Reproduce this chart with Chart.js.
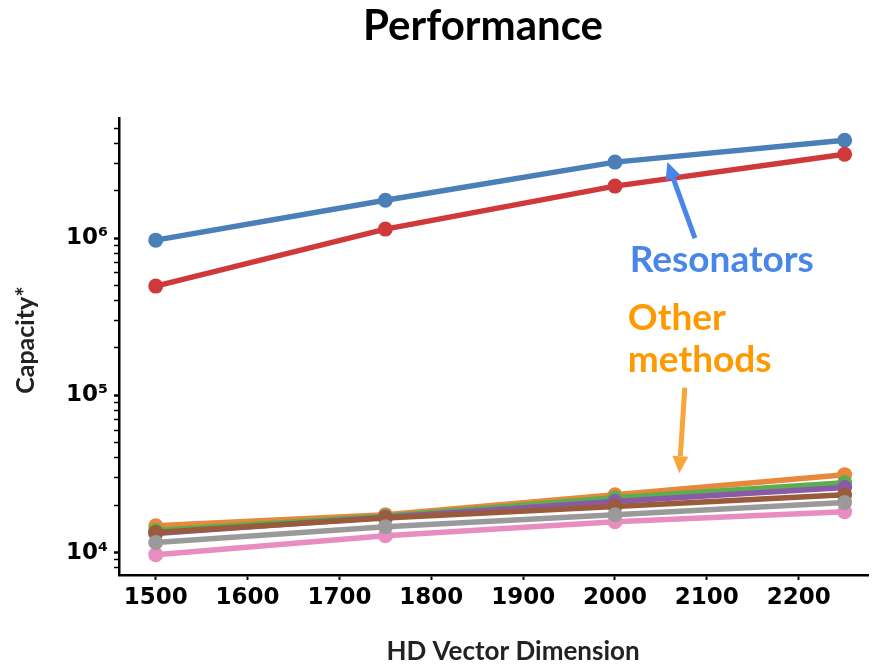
<!DOCTYPE html>
<html><head><meta charset="utf-8">
<script src="https://cdn.jsdelivr.net/npm/chart.js@4/dist/chart.umd.min.js"></script>
<style>html,body{margin:0;padding:0;background:#fff}#wrap{width:876px;height:665px}</style>
</head><body><div id="wrap"><canvas id="c" width="876" height="665"></canvas></div>
<script>
// ---- data ----
const dims = [1500, 1750, 2000, 2250];
const resonatorA = [970000, 1740000, 3040000, 4190000];
const resonatorB = [495000, 1140000, 2140000, 3410000];
const method1 = [14800, 17400, 23300, 31300];
const method2 = [13800, 17000, 22300, 27800];
const method3 = [13200, 16800, 21100, 25900];
const method4 = [13400, 16600, 19600, 23300];
const method5 = [9700, 12800, 15700, 18200];
const method6 = [11600, 14600, 17400, 20800];
const seriesNames = ['Resonator A', 'Method 1', 'Method 2', 'Resonator B', 'Method 3', 'Method 4', 'Method 5', 'Method 6'];
const seriesValues = [resonatorA, method1, method2, resonatorB, method3, method4, method5, method6];
const seriesColors = ['#4a7fb8', '#e8883a', '#5aae4f', '#d0393a', '#8a5aa8', '#9a5a3c', '#e88dc0', '#9a9a9a'];
const xTickValues = [1500, 1600, 1700, 1800, 1900, 2000, 2100, 2200];
const xTickLabels = ['1500', '1600', '1700', '1800', '1900', '2000', '2100', '2200'];
const yTickValues = [1e4, 1e5, 1e6];
const yTickLabels = ['10\u2074', '10\u2075', '10\u2076'];
const titleText = 'Performance';
const xTitle = 'HD Vector Dimension';
const yTitle = 'Capacity*';
const notes = [
  {text: 'Resonators', x: 2016, y: 6.08e5, color: '#4a86e8'},
  {text: 'Other', x: 2014, y: 2.62e5, color: '#ff9900'},
  {text: 'methods', x: 2014, y: 1.40e5, color: '#ff9900'}
];
const arrows = [
  {from: [2087, 1.0e6], to: [2057, 3.04e6], color: '#4a86e8'},
  {from: [2076, 1.12e5], to: [2070, 3.2e4], color: '#f8a53c'}
];

const datasets = seriesValues.map((vals, i) => ({
  label: seriesNames[i],
  data: dims.map((d, j) => ({x: d, y: vals[j]})),
  borderColor: seriesColors[i],
  backgroundColor: seriesColors[i],
  pointBackgroundColor: seriesColors[i],
  borderWidth: 5.5,
  pointRadius: 7.5,
  pointBorderWidth: 0,
  tension: 0,
  order: seriesValues.length - i
}));

function drawArrow(ctx, x1, y1, x2, y2, color) {
  const ang = Math.atan2(y2 - y1, x2 - x1);
  const hl = 17, hw = 8;
  const bx = x2 - hl * Math.cos(ang), by = y2 - hl * Math.sin(ang);
  ctx.strokeStyle = color; ctx.fillStyle = color; ctx.lineWidth = 5; ctx.lineCap = 'butt';
  ctx.beginPath(); ctx.moveTo(x1, y1); ctx.lineTo(bx, by); ctx.stroke();
  ctx.beginPath();
  ctx.moveTo(x2, y2);
  ctx.lineTo(bx + hw * Math.sin(ang), by - hw * Math.cos(ang));
  ctx.lineTo(bx - hw * Math.sin(ang), by + hw * Math.cos(ang));
  ctx.closePath(); ctx.fill();
}

const overlay = {
  id: 'overlay',
  afterDraw(chart) {
    const {ctx, scales: {x, y}} = chart;
    ctx.save();
    ctx.textBaseline = 'alphabetic';
    ctx.textAlign = 'center';
    ctx.fillStyle = '#000';
    ctx.font = 'bold 42px Lato';
    ctx.fillText(titleText, 483, 40);
    ctx.fillStyle = '#222';
    ctx.font = 'bold 26px Lato';
    ctx.fillText(xTitle, 513, 660);
    ctx.save();
    ctx.translate(34, 340);
    ctx.rotate(-Math.PI / 2);
    ctx.font = 'bold 25px Lato';
    ctx.fillText(yTitle, 0, 0);
    ctx.restore();
    ctx.textAlign = 'left';
    ctx.font = 'bold 37px Lato';
    notes.forEach(n => {
      ctx.fillStyle = n.color;
      ctx.fillText(n.text, x.getPixelForValue(n.x), y.getPixelForValue(n.y));
    });
    arrows.forEach(a => drawArrow(ctx,
      x.getPixelForValue(a.from[0]), y.getPixelForValue(a.from[1]),
      x.getPixelForValue(a.to[0]), y.getPixelForValue(a.to[1]), a.color));
    ctx.restore();
  }
};

new Chart(document.getElementById('c'), {
  type: 'line',
  data: {datasets},
  options: {
    responsive: false,
    animation: false,
    devicePixelRatio: 1,
    layout: {padding: {top: 118, left: 0, right: 3, bottom: 0}},
    plugins: {legend: {display: false}, title: {display: false}, tooltip: {enabled: false}},
    scales: {
      x: {
        type: 'linear', min: 1460, max: 2276,
        afterBuildTicks: s => { s.ticks = xTickValues.map(v => ({value: v})); },
        afterFit: s => { s.height = 90; },
        border: {display: true, color: '#000', width: 2.5},
        grid: {display: true, drawOnChartArea: false, drawTicks: true, tickLength: 5, tickColor: '#000', tickWidth: 2},
        ticks: {color: '#000', font: {family: 'DejaVu Sans', weight: 'bold', size: 23}, padding: 4, maxRotation: 0, autoSkip: false,
          callback: v => { const i = xTickValues.indexOf(v); return i >= 0 ? xTickLabels[i] : ''; }}
      },
      y: {
        type: 'logarithmic', min: 7200, max: 5.8e6,
        afterBuildTicks: s => {
          const t = [];
          for (let e = 3; e <= 6; e++) for (let m = 1; m <= 9; m++) {
            const v = m * Math.pow(10, e);
            if (v >= s.min && v <= s.max) t.push({value: v, major: m === 1});
          }
          s.ticks = t;
        },
        afterFit: s => { s.width = 119; },
        border: {display: true, color: '#000', width: 2.5},
        grid: {display: true, drawOnChartArea: false, drawTicks: true, tickLength: 5, tickColor: '#000',
               tickWidth: c => (c.tick && c.tick.major) ? 2.5 : 1.5},
        ticks: {
          color: '#000', font: {family: 'DejaVu Sans', weight: 'bold', size: 23}, padding: 6, autoSkip: false,
          callback: v => { const i = yTickValues.indexOf(v); return i >= 0 ? yTickLabels[i] : ''; }
        }
      }
    }
  },
  plugins: [overlay]
});
</script></body></html>
